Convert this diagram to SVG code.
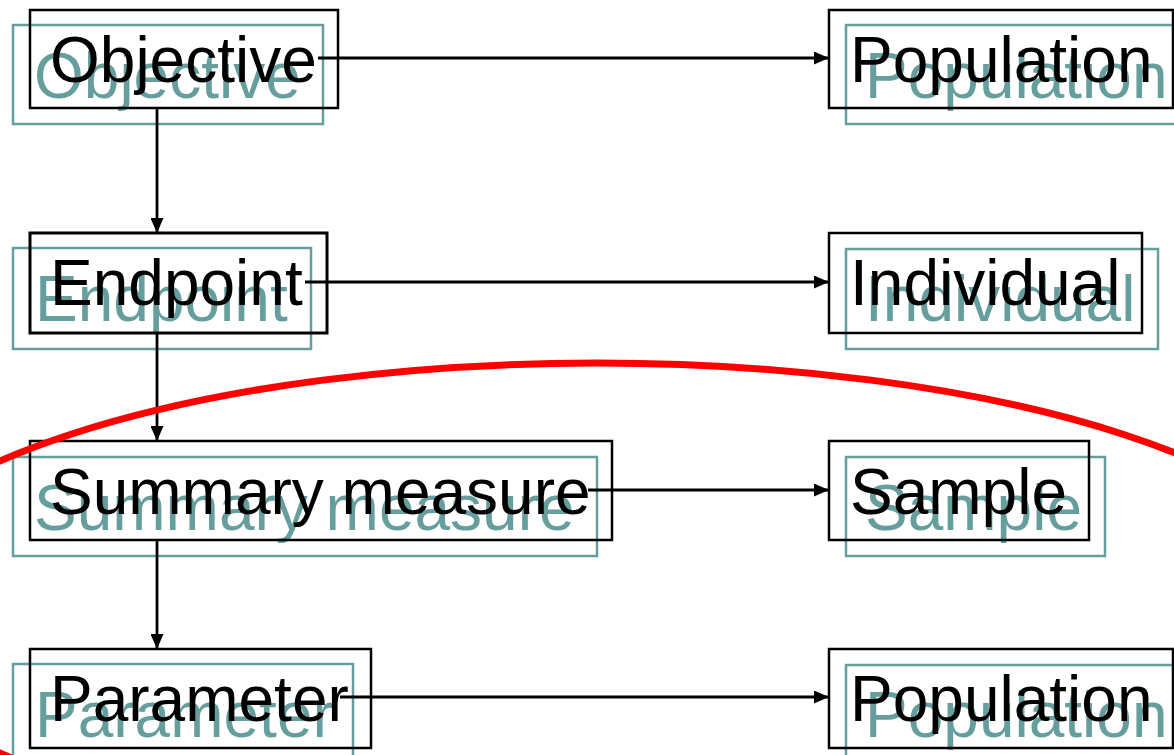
<svg xmlns="http://www.w3.org/2000/svg" width="1174" height="755" viewBox="0 0 1174 755">
<defs>
<style>
.shadow rect{fill:none;stroke:#669e9e;stroke-width:2.5}
.shadow text{fill:#669e9e}
.main rect{fill:none;stroke:#000;stroke-width:2.5}
.main text{fill:#000}
text{font-family:"Liberation Sans",Arial,sans-serif;font-size:64px}
.conn line{stroke:#000;stroke-width:2.8;marker-end:url(#arr)}
</style>
<marker id="arr" markerWidth="15" markerHeight="13" refX="15" refY="6.5" orient="auto" markerUnits="userSpaceOnUse">
<path d="M0,0 L15,6.5 L0,13 Z" fill="#000"/>
</marker>
</defs>
<rect width="1174" height="755" fill="#fff"/>
<g id="objective">
<g class="shadow"><rect x="13" y="25" width="310" height="99"/><text x="34" y="98">Objective</text></g>
<g class="main"><rect x="30" y="10" width="308" height="98"/><text x="50" y="82">Objective</text></g>
</g>
<g id="population-top">
<g class="shadow"><rect x="846" y="25" width="340" height="99"/><text x="865" y="98">Population</text></g>
<g class="main"><rect x="829" y="10" width="344" height="98"/><text x="850" y="82">Population</text></g>
</g>
<g id="endpoint">
<g class="shadow"><rect x="13" y="248" width="298" height="101"/><text x="35" y="321">Endpoint</text></g>
<g class="main"><rect x="30" y="233" width="297" height="100" style="stroke-width:3"/><text x="50" y="305">Endpoint</text></g>
</g>
<g id="individual">
<g class="shadow"><rect x="846" y="249" width="312" height="100"/><text x="865" y="321">Individual</text></g>
<g class="main"><rect x="829" y="233" width="313" height="100"/><text x="850" y="305">Individual</text></g>
</g>
<g id="summary">
<g class="shadow"><rect x="13" y="457" width="584" height="99"/><text x="34" y="530">Summary measure</text></g>
<g class="main"><rect x="30" y="441" width="582" height="99"/><text x="50" y="514">Summary measure</text></g>
</g>
<g id="sample">
<g class="shadow"><rect x="846" y="457" width="259" height="99"/><text x="865" y="530">Sample</text></g>
<g class="main"><rect x="829" y="441" width="260" height="99"/><text x="850" y="514">Sample</text></g>
</g>
<g id="parameter">
<g class="shadow"><rect x="13" y="664" width="340" height="100"/><text x="35" y="737">Parameter</text></g>
<g class="main"><rect x="30" y="649" width="341" height="99"/><text x="50" y="721">Parameter</text></g>
</g>
<g id="population-bottom">
<g class="shadow"><rect x="846" y="665" width="340" height="100"/><text x="865" y="737">Population</text></g>
<g class="main"><rect x="829" y="649" width="344" height="99"/><text x="850" y="721">Population</text></g>
</g>
<g id="connectors" class="conn">
<line x1="318" y1="58" x2="829" y2="58"/>
<line x1="305" y1="282" x2="829" y2="282"/>
<line x1="588" y1="490" x2="829" y2="490"/>
<line x1="340" y1="697" x2="829" y2="697"/>
<line x1="157" y1="108" x2="157" y2="233"/>
<line x1="157" y1="333" x2="157" y2="441"/>
<line x1="157" y1="540" x2="157" y2="649"/>
</g>
<ellipse id="highlight" cx="597" cy="607" rx="745" ry="244" fill="none" stroke="#ff0000" stroke-width="7"/>
</svg>
